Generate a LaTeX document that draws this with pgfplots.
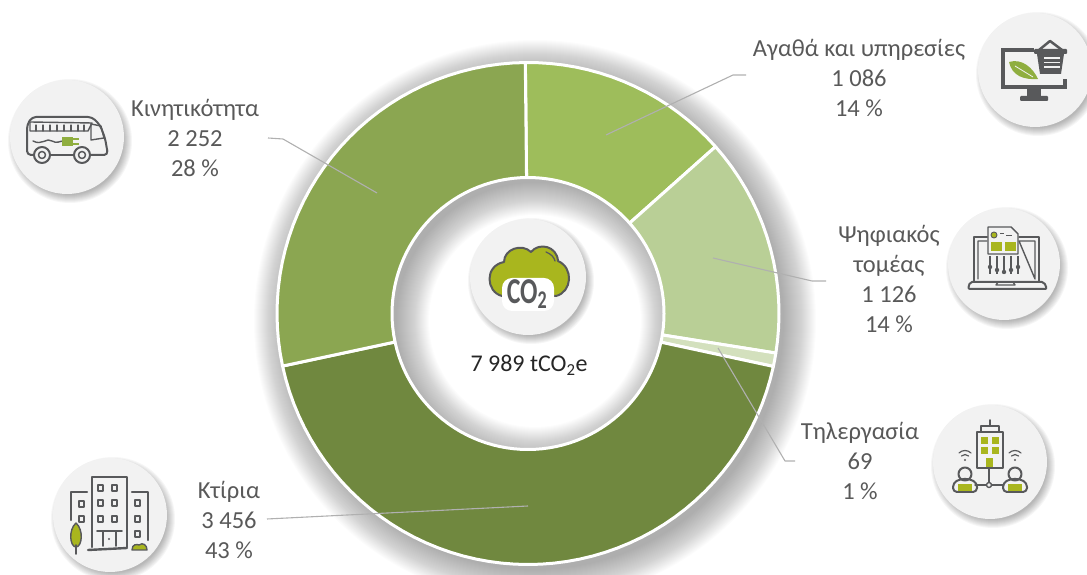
\documentclass[border=0pt]{standalone}
\usepackage{pgfplots}
\usepackage{pgfplotstable}
\usepackage{fontspec}
\setmainfont{Carlito}
\pgfplotsset{compat=1.18}
\definecolor{cgoods}{HTML}{9EBD5B}
\definecolor{cdigital}{HTML}{B9CF96}
\definecolor{ctele}{HTML}{D3E0BD}
\definecolor{cbuild}{HTML}{70883F}
\definecolor{cmob}{HTML}{8BA651}
\definecolor{ic}{HTML}{58595B}
\definecolor{oli}{HTML}{A9B61E}
\definecolor{leaf}{HTML}{8FAE3F}
\definecolor{disc}{HTML}{F2F2F2}
\definecolor{txt}{HTML}{595959}
\definecolor{lead}{HTML}{B0B0B0}
\pgfplotstableread{
name value
goods 1086
digital 1126
telework 69
buildings 3456
mobility 2252
}\sectors
\def\cx{528}\def\cy{313.5}\def\Ro{251}\def\Ri{136}
\def\cum{90.6}
\newcommand\onesector[2]{%
  \pgfplotstablegetelem{#1}{value}\of\sectors
  \pgfmathsetmacro\aend{\cum-\pgfplotsretval/7989*360}%
  \pgfmathtruncatemacro\nn{max(2,ceil((\cum-\aend)/3))}%
  \pgfmathsetmacro\stepa{(\aend-\cum)/\nn}%
  \gdef\seclist{}%
  \foreach \i in {0,...,\nn}{%
    \pgfmathsetmacro\a{\cum+\i*\stepa}%
    \pgfmathsetmacro\px{\cx+\Ro*cos(\a)}%
    \pgfmathsetmacro\py{\cy-\Ro*sin(\a)}%
    \xdef\seclist{\seclist(\px,\py)}%
  }%
  \foreach \i in {\nn,...,0}{%
    \pgfmathsetmacro\a{\cum+\i*\stepa}%
    \pgfmathsetmacro\px{\cx+\Ri*cos(\a)}%
    \pgfmathsetmacro\py{\cy-\Ri*sin(\a)}%
    \xdef\seclist{\seclist(\px,\py)}%
  }%
  \pgfmathsetmacro\px{\cx+\Ro*cos(\cum)}%
  \pgfmathsetmacro\py{\cy-\Ro*sin(\cum)}%
  \xdef\seclist{\seclist(\px,\py)}%
  \global\expandafter\let\csname #2\endcsname\seclist
  \xdef\cum{\aend}%
}
\onesector{0}{secA}
\onesector{1}{secB}
\onesector{2}{secC}
\onesector{3}{secD}
\onesector{4}{secE}
\newcommand\softdisc[3]{%
  \foreach \k in {0,...,8}{%
    \fill[black,opacity=.035] (#1+3,#2+4) circle[radius=#3+5-\k];
  }%
  \fill[disc] (#1,#2) circle[radius=#3];
}
\tikzset{lab/.style={text=txt,align=center,font=\fontsize{24.5}{30}\selectfont},
  ld/.style={draw=lead,line width=1.1pt,line join=round},
  icl/.style={draw=ic,line width=2pt,line join=round,line cap=round}}
\begin{document}
\begin{tikzpicture}
\path[use as bounding box,clip] (0,0) rectangle (1087pt,575pt);
\begin{scope}[x=1pt,y=-1pt,yshift=575pt]
% donut shadow: offset towards the lower right, soft edge
\foreach \s in {0,1,...,32}{%
  \pgfmathsetmacro\ra{249+\s}\pgfmathsetmacro\rb{138-\s}%
  \fill[black,opacity=.011,even odd rule] (535,321) circle[radius=\ra] (535,321) circle[radius=\rb];
}
\end{scope}
\begin{axis}[at={(0,0)},anchor=south west,scale only axis,width=1087pt,height=575pt,
  xmin=0,xmax=1087,ymin=0,ymax=575,y dir=reverse,hide axis]
\edef\temp{\noexpand\addplot[fill=cgoods,draw=white,line width=3pt,line join=round,mark=none] coordinates {\secA};}\temp
\edef\temp{\noexpand\addplot[fill=cdigital,draw=white,line width=3pt,line join=round,mark=none] coordinates {\secB};}\temp
\edef\temp{\noexpand\addplot[fill=ctele,draw=white,line width=3pt,line join=round,mark=none] coordinates {\secC};}\temp
\edef\temp{\noexpand\addplot[fill=cbuild,draw=white,line width=3pt,line join=round,mark=none] coordinates {\secD};}\temp
\edef\temp{\noexpand\addplot[fill=cmob,draw=white,line width=3pt,line join=round,mark=none] coordinates {\secE};}\temp
\end{axis}
\begin{scope}[x=1pt,y=-1pt,yshift=575pt]
% leader lines
\draw[ld] (606,135)--(733,75)--(746,75);
\draw[ld] (377,193)--(283,139)--(268,138);
\draw[ld] (713,258)--(812,281)--(826,281);
\draw[ld] (718,348)--(785,461)--(795,461);
\draw[ld] (528,506)--(267,519);
% discs
\softdisc{528}{277}{58}
\softdisc{67}{137}{57}
\softdisc{1035}{70}{57}
\softdisc{1004}{264}{56}
\softdisc{990}{462}{57}
\softdisc{110}{515}{57}
% labels
\node[lab] at (195,138) {Κινητικότητα\\2 252\\28 \%};
\node[lab] at (859,78) {Αγαθά και υπηρεσίες\\1 086\\14 \%};
\node[lab] at (889,279) {Ψηφιακός\\τομέας\\1 126\\14 \%};
\node[lab] at (860,461) {Τηλεργασία\\69\\1 \%};
\node[lab] at (229,520) {Κτίρια\\3 456\\43 \%};
\node[text=black!85,font=\fontsize{24}{27}\selectfont] at (529,365) {7 989 tCO\textsubscript{2}e};
% CO2 cloud
\draw[ic,line width=2pt,fill=oli,line join=round] (502,296) .. controls (486,292) and (484,266) .. (504,262)
  .. controls (504,249) and (522,243) .. (531,252) .. controls (539,242) and (557,246) .. (558,261)
  .. controls (574,268) and (572,292) .. (556,296) -- cycle;
\fill[white,rounded corners=10pt] (502,278) rectangle (554,311);
\node[text=ic,font=\fontsize{28}{28}\selectfont\bfseries,inner sep=0pt,xscale=.92,yscale=1.3] at (527,294) {CO\textsubscript{2}};
\draw[ic,line width=1.3pt,line cap=round] (546,252) .. controls (551,254) and (554,257) .. (555,261);
% bus
\draw[icl,rounded corners=4pt] (34,155)--(27,155)--(27,125)--(32,117)--(92,117)--(100,125)--(105,138)--(108,155)--(91,155);
\draw[icl] (50,155)--(73,155);
\draw[icl,line width=1.4pt] (30,131)--(88,131)--(92,123)--(30,122)--cycle;
\foreach \x in {36,43,50,57,64,71,78,84}{\draw[icl,line width=1.2pt] (\x,125)--(\x,131);}
\draw[icl,line width=1.4pt] (91,124)--(101,126)--(104,138)--(91,140)--cycle;
\draw[icl,line width=1.4pt] (33,141)..controls(42,146)and(47,137)..(52,141)..controls(57,144)and(60,141)..(63,141);
\fill[leaf] (62,137) rectangle (73,146);
\draw[leaf,line width=1.6pt] (73,139)--(79,139) (73,144)--(79,144);
\foreach \x in {42,82}{\draw[icl,fill=disc] (\x,155) circle[radius=8pt]; \draw[icl,line width=1.5pt] (\x,155) circle[radius=3.5pt];}
% goods
\draw[ic,line width=3.2pt] (1034,50)--(1003,50)--(1003,87)--(1065,87)--(1065,79);
\fill[ic] (1027,87) rectangle (1041,97);
\fill[ic,rounded corners=1pt] (1020,96) rectangle (1048,101);
\draw[ic,line width=2.5pt,line join=round] (1039,50)--(1050,41)--(1062,50);
\fill[ic,rounded corners=1pt] (1034,49) rectangle (1067,54);
\fill[ic] (1037,54)--(1064,54)--(1061,74)--(1040,74)--cycle;
\foreach \y in {58,62.5,67}{\draw[disc,line width=1.3pt] (1044,\y)--(1060,\y);}
\fill[leaf] (1009,62) .. controls (1022,58) and (1033,68) .. (1038,79) .. controls (1024,80) and (1012,76) .. (1009,62) -- cycle;
\draw[disc,line width=.8pt] (1015,66)--(1033,77);
% digital
\draw[icl] (974,282)--(974,237)--(987,237) (1019,237)--(1039,237)--(1039,282);
\draw[icl,line width=1.4pt] (978,279)--(978,241)--(987,241) (1019,241)--(1035,241)--(1035,279)--cycle;
\draw[icl,rounded corners=2pt] (970,282)--(1044,282)--(1047,289)--(968,289)--cycle;
\draw[icl,line width=1.4pt] (996,285)--(998,282) (1015,285)--(1013,282) (996,285)--(1015,285);
\draw[icl,line width=1.4pt,fill=disc] (988,254)--(988,227)--(1011,227)--(1018,234)--(1018,254)--cycle;
\fill[oli] (991,242) rectangle (1002,251);\fill[oli] (1005,242) rectangle (1016,251);
\draw[ic,line width=.9pt,fill=oli] (994,235) circle[radius=3pt];
\draw[ic,line width=1pt] (1000,234)--(1004,234) (1006,236)--(1012,236);
\foreach \x/\y in {990/267,997/270,1004/272,1011/270,1018/267}{%
  \draw[ic,line width=1.1pt] (\x,256)--(\x,274);\fill[ic] (\x,\y) circle[radius=2.2pt];}
% telework
\draw[icl] (977,468)--(977,432)--(1003,432)--(1003,468)--cycle;
\draw[icl,line width=1.5pt] (981,432)--(981,426)--(999,426)--(999,432) (990,426)--(990,420);
\foreach \x/\y in {981/437,992/437,981/447,992/447}{\fill[oli] (\x,\y) rectangle +(7,7);}
\fill[oli] (986,458) rectangle (993,467);
\draw[icl,line width=1.4pt] (989,468)--(989,485) (975,485)--(1003,485);
\draw[icl,line width=1.4pt,fill=disc] (989,485) circle[radius=2.5pt];
\foreach \x in {965,1015}{%
  \draw[icl,fill=disc] (\x,474) circle[radius=6.5pt];
  \draw[icl,rounded corners=4pt] (\x-12,492)--(\x-12,483)--(\x-5,479)--(\x+5,479)--(\x+12,483)--(\x+12,492)--cycle;
  \fill[oli] (\x-7,484) rectangle (\x+7,491);
  \draw[icl,line width=1.2pt] (\x-6,453) arc[start angle=135,end angle=45,radius=8.5pt];
  \draw[icl,line width=1.2pt] (\x-3.5,456) arc[start angle=135,end angle=45,radius=5pt];
  \fill[ic] (\x,460) circle[radius=1.2pt];
}
% buildings
\draw[icl,line width=2.4pt] (92,547)--(92,477)--(127,477)--(127,547);
\draw[icl,line width=2.4pt] (87,492)--(71,492)--(71,520);
\draw[icl,line width=2.4pt] (132,492)--(148,492)--(148,540);
\draw[icl,line width=2.4pt] (88,550)--(127,548);
\foreach \x in {100,114}{\foreach \y in {485,500,516}{\draw[icl,line width=2.2pt] (\x-2,\y)rectangle(\x+3,\y+6);}}
\foreach \x/\y in {81/501,81/516,137/500,137/516,137/531}{\draw[icl,line width=2.2pt] (\x-2,\y)rectangle(\x+3,\y+6);}
\draw[icl,line width=1.8pt] (97,531)--(122,531) (103,531)--(103,546) (116,531)--(116,546);
\fill[ic] (109,539) circle[radius=1.1pt];
\draw[icl,fill=oli,line width=1.4pt] (76,523) .. controls (84,530) and (82,547) .. (76,547) .. controls (70,547) and (68,530) .. (76,523) -- cycle;
\draw[icl,line width=1.6pt] (76,545)--(76,554);
\draw[icl,fill=oli,line width=1.4pt] (132,550) .. controls (132,544) and (137,544) .. (139,545) .. controls (143,542) and (147,545) .. (147,550) -- cycle;
\end{scope}
\end{tikzpicture}
\end{document}
